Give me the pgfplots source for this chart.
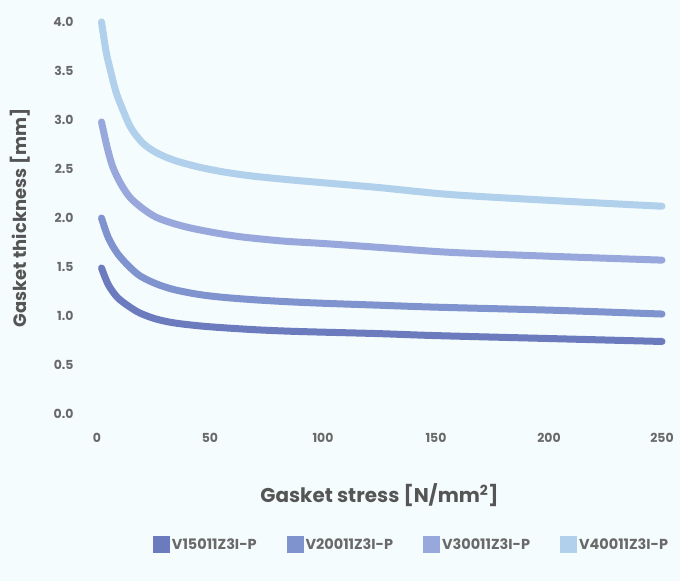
\documentclass[border=0pt]{standalone}
\usepackage{pgfplots}
\pgfplotsset{compat=1.18}
\usepackage{fontspec}
\setmainfont{Poppins}
\definecolor{bgc}{RGB}{245,252,253}
\definecolor{cA}{RGB}{108,122,190}
\definecolor{cB}{RGB}{127,147,206}
\definecolor{cC}{RGB}{152,168,220}
\definecolor{cD}{RGB}{176,208,236}
\definecolor{tickc}{RGB}{105,105,105}
\definecolor{labc}{RGB}{85,85,85}
\begin{document}
\begin{tikzpicture}
% page background
\fill[bgc] (-97bp,-167bp) rectangle (583bp,414bp);
\begin{axis}[name=ax, at={(0,0)}, anchor=south west,
  scale only axis, width=565bp, height=392bp,
  xmin=0, xmax=250, ymin=0, ymax=4,
  clip=false,
  axis line style={draw=none}, major tick length=0pt,
  xtick={0,50,...,250}, ytick={0,0.5,...,4},
  /pgf/number format/assume math mode=true,
  yticklabel style={/pgf/number format/.cd, fixed, fixed zerofill, precision=1, /tikz/.cd,
    font=\fontsize{12.5}{14}\selectfont\bfseries, text=tickc, xshift=-20bp},
  xticklabel style={font=\fontsize{12.5}{14}\selectfont\bfseries, text=tickc, yshift=-16bp},
  xlabel={Gasket stress [N/mm\textsuperscript{2}]},
  ylabel={Gasket thickness [mm]},
  xlabel style={at={(rel axis cs:0.5,-0.207)}, anchor=center, font=\fontsize{20}{24}\selectfont\bfseries, text=labc},
  ylabel style={at={(rel axis cs:-0.136,0.5)}, anchor=center, rotate=0, font=\fontsize{18}{22}\selectfont\bfseries, text=labc},
  every axis plot/.append style={line width=7bp, line cap=round, smooth},
  legend columns=4,
  legend style={at={(rel axis cs:1.02,-0.334)}, anchor=east, draw=none, fill=none,
    font=\fontsize{14.5}{16}\selectfont\bfseries, text=tickc,
    /tikz/every even column/.append style={column sep=28bp}},
  legend image code/.code={\fill (0bp,-5bp) rectangle (10bp,5bp);},
]
\addplot[cA] coordinates {(2,1.49)(5,1.32)(9,1.19)(14,1.10)(19,1.03)(26,0.97)(34,0.93)(45,0.90)(56,0.88)(70,0.86)(85,0.845)(100,0.835)(125,0.82)(150,0.80)(200,0.77)(250,0.74)};
\addplot[cB] coordinates {(2,2.0)(5,1.80)(9,1.64)(14,1.51)(19,1.41)(26,1.33)(34,1.27)(45,1.22)(56,1.19)(70,1.165)(85,1.145)(100,1.13)(125,1.11)(150,1.09)(200,1.06)(250,1.02)};
\addplot[cC] coordinates {(2,2.98)(4.5,2.72)(7,2.52)(10.5,2.35)(14.6,2.21)(20,2.10)(26,2.01)(33,1.95)(41,1.90)(52,1.85)(63,1.81)(75,1.78)(85,1.76)(100,1.74)(125,1.70)(156,1.65)(200,1.61)(250,1.57)};
\addplot[cD] coordinates {(2,4.0)(4,3.7)(6,3.5)(8.5,3.28)(11.5,3.10)(15,2.92)(20,2.77)(26,2.67)(34,2.59)(45,2.52)(56,2.47)(68,2.43)(85,2.39)(100,2.36)(125,2.31)(156,2.24)(200,2.18)(250,2.12)};
\legend{V15011Z3I-P,V20011Z3I-P,V30011Z3I-P,V40011Z3I-P}
\end{axis}
\pgfresetboundingbox
\path[use as bounding box] (-97bp,-167bp) rectangle (583bp,414bp);
\end{tikzpicture}
\end{document}
